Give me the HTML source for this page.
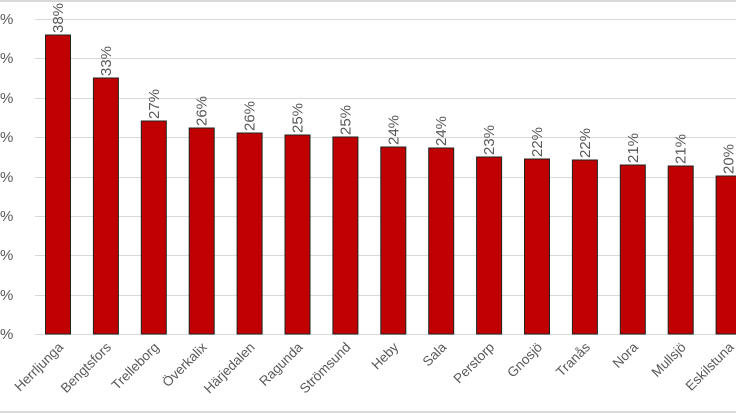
<!DOCTYPE html>
<html><head><meta charset="utf-8"><style>
html,body{margin:0;padding:0;background:#fff;}
svg{display:block;font-family:"Liberation Sans",sans-serif;}
</style></head><body>
<svg width="736" height="414" viewBox="0 0 736 414">
<rect x="0" y="0" width="736" height="414" fill="#fff"/>
<line x1="0" y1="1" x2="736" y2="1" stroke="#d9d9d9" stroke-width="2"/>
<line x1="0" y1="412" x2="736" y2="412" stroke="#d9d9d9" stroke-width="2"/>
<g stroke="#d9d9d9" stroke-width="1">
<line x1="35" y1="19.5" x2="736" y2="19.5"/>
<line x1="35" y1="58.5" x2="736" y2="58.5"/>
<line x1="35" y1="98.5" x2="736" y2="98.5"/>
<line x1="35" y1="137.5" x2="736" y2="137.5"/>
<line x1="35" y1="177.5" x2="736" y2="177.5"/>
<line x1="35" y1="216.5" x2="736" y2="216.5"/>
<line x1="35" y1="255.5" x2="736" y2="255.5"/>
<line x1="35" y1="295.5" x2="736" y2="295.5"/>
<line x1="35" y1="334.5" x2="736" y2="334.5"/>
</g>
<g fill="#595959" font-size="15">
<text x="0" y="24">%</text><text x="0" y="63">%</text><text x="0" y="103">%</text>
<text x="0" y="142">%</text><text x="0" y="182">%</text><text x="0" y="221">%</text>
<text x="0" y="260">%</text><text x="0" y="300">%</text><text x="0" y="339">%</text>
</g>
<g id="bars" fill="#c00000" stroke="#222" stroke-width="1"></g>
<g id="vals" fill="#595959" font-size="15"></g>
<g id="labs" fill="#595959" font-size="13.5"></g>
</svg>
<script>
var names=["Herrljunga","Bengtsfors","Trelleborg","Överkalix","Härjedalen","Ragunda","Strömsund","Heby","Sala","Perstorp","Gnosjö","Tranås","Nora","Mullsjö","Eskilstuna"];
var vals=["38%","33%","27%","26%","26%","25%","25%","24%","24%","23%","22%","22%","21%","21%","20%"];
var tops=[35,78,121,128,133,135,137,147,148,157,159,160,165,166,176];
var ns="http://www.w3.org/2000/svg";
function el(t,a,txt){var e=document.createElementNS(ns,t);for(var k in a)e.setAttribute(k,a[k]);if(txt)e.textContent=txt;return e;}
for(var i=0;i<15;i++){
 var x=45.5+i*47.9,cx=x+12.5;
 document.getElementById("bars").appendChild(el("rect",{x:x,y:tops[i],width:25,height:334-tops[i]}));
 document.getElementById("vals").appendChild(el("text",{x:0,y:0,transform:"translate("+(cx+5)+","+(tops[i]-2)+") rotate(-90)"},vals[i]));
 document.getElementById("labs").appendChild(el("text",{x:0,y:0,"text-anchor":"end",transform:"translate("+(cx+6)+","+348+") rotate(-45)"},names[i]));
}
</script>
</body></html>
